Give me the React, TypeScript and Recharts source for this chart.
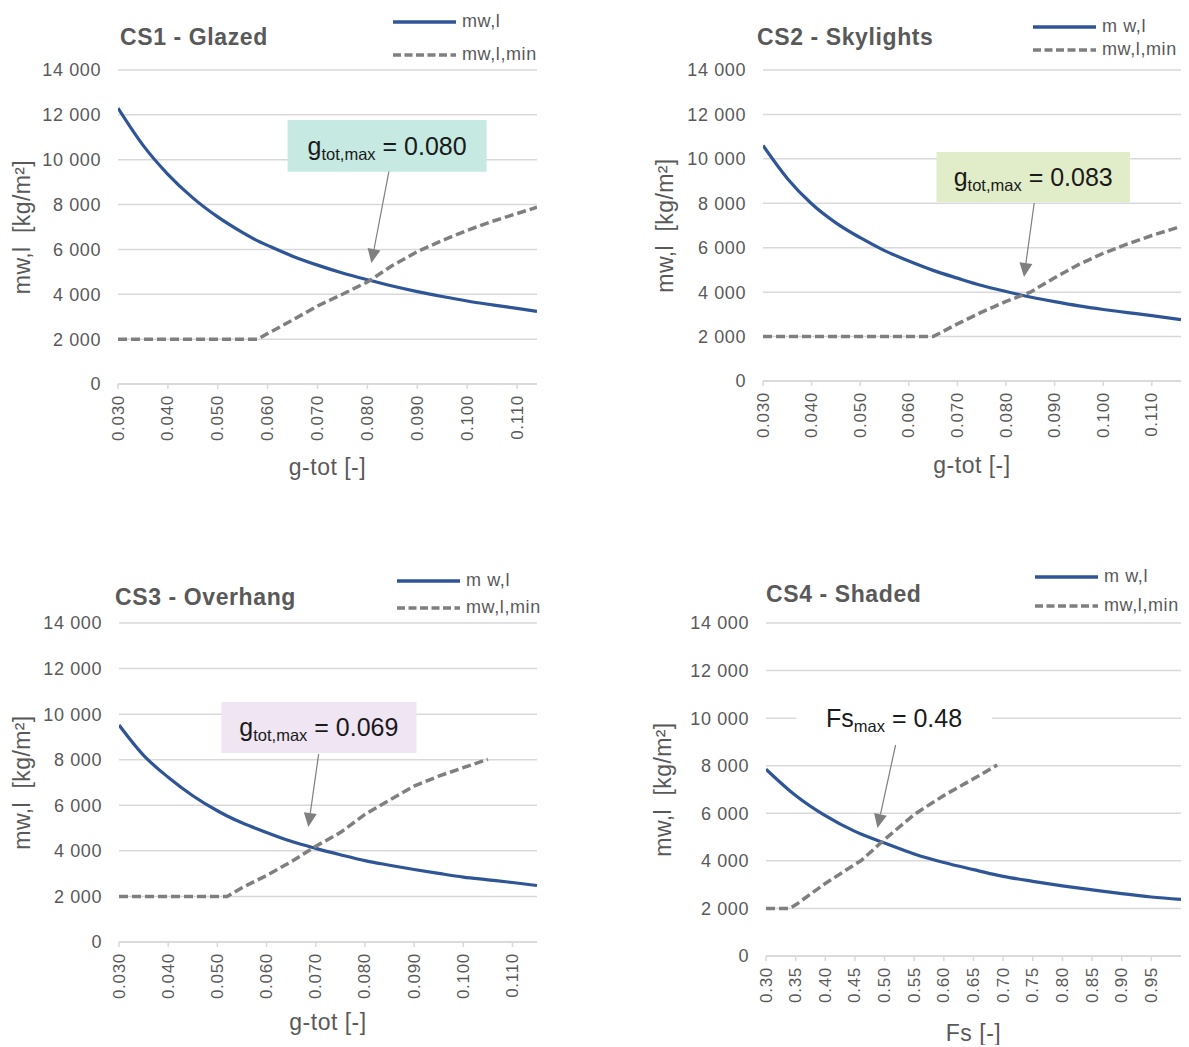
import React from 'react';
import {
  LineChart,
  Line,
  XAxis,
  YAxis,
  CartesianGrid,
  Legend,
  ReferenceArea,
  ReferenceLine,
} from 'recharts';

const FONT = '"Liberation Sans", Arial, Helvetica, sans-serif';
const TEXT = '#595959';
const GRID = '#d9d9d9';
const BLUE = '#2f5597';
const GREY = '#7f7f7f';
const DASH = '9 4';

// CS1 - Glazed
const CS1_G = [0.03, 0.035, 0.04, 0.045, 0.05, 0.055, 0.058, 0.06, 0.065, 0.07, 0.075, 0.08, 0.085, 0.09, 0.095, 0.1, 0.105, 0.11, 0.114];
const CS1_MW = [12300, 10650, 9350, 8300, 7450, 6750, 6380, 6180, 5700, 5300, 4950, 4650, 4370, 4120, 3900, 3700, 3530, 3370, 3240];
const CS1_MIN = [2000, 2000, 2000, 2000, 2000, 2000, 2000, 2250, 2850, 3480, 4000, 4550, 5280, 5900, 6400, 6850, 7250, 7600, 7880];

// CS2 - Skylights
const CS2_G = [0.03, 0.035, 0.04, 0.045, 0.05, 0.055, 0.06, 0.065, 0.07, 0.075, 0.08, 0.085, 0.09, 0.095, 0.1, 0.105, 0.11, 0.116];
const CS2_MW = [10600, 9120, 7980, 7120, 6450, 5870, 5400, 4980, 4630, 4300, 4030, 3780, 3570, 3380, 3220, 3080, 2940, 2760];
const CS2_MIN = [2000, 2000, 2000, 2000, 2000, 2000, 2000, 2000, 2570, 3100, 3580, 4000, 4650, 5250, 5750, 6170, 6550, 6960];

// CS3 - Overhang
const CS3_G = [0.03, 0.035, 0.04, 0.045, 0.05, 0.052, 0.055, 0.06, 0.065, 0.07, 0.075, 0.08, 0.085, 0.09, 0.095, 0.1, 0.105, 0.11, 0.115];
const CS3_MW = [9520, 8190, 7230, 6420, 5760, 5530, 5230, 4810, 4420, 4110, 3830, 3570, 3370, 3180, 3010, 2850, 2730, 2610, 2480];
const CS3_MIN = [2000, 2000, 2000, 2000, 2000, 2000, 2380, 2920, 3520, 4200, 4800, 5600, 6230, 6840, 7280, 7650, 8020, null, null];

// CS4 - Shaded
const CS4_FS = [0.3, 0.34, 0.35, 0.4, 0.45, 0.46, 0.5, 0.55, 0.6, 0.65, 0.69, 0.7, 0.75, 0.8, 0.85, 0.9, 0.95, 1.0];
const CS4_MW = [7850, 6950, 6750, 5900, 5240, 5130, 4750, 4290, 3930, 3630, 3400, 3350, 3140, 2950, 2780, 2620, 2480, 2380];
const CS4_MIN = [2000, 2000, 2150, 3050, 3850, 4000, 4900, 5950, 6750, 7450, 8030, null, null, null, null, null, null, null];

const G_TICKS = [0.03, 0.04, 0.05, 0.06, 0.07, 0.08, 0.09, 0.1, 0.11];
const FS_TICKS = [0.3, 0.35, 0.4, 0.45, 0.5, 0.55, 0.6, 0.65, 0.7, 0.75, 0.8, 0.85, 0.9, 0.95];
const Y_TICKS = [0, 2000, 4000, 6000, 8000, 10000, 12000, 14000];

type Row = { x: number; mw: number; min: number | null };

const rows = (xs: number[], mw: number[], min: (number | null)[]): Row[] =>
  xs.map((x, i) => ({ x, mw: mw[i], min: min[i] }));

const thousands = (v: number) => String(v).replace(/\B(?=(\d{3})+(?!\d))/g, ' ');

function RotTick(props: any) {
  const { x, y, payload, digits } = props;
  return (
    <text
      x={x}
      y={y}
      transform={`rotate(-90 ${x} ${y})`}
      textAnchor="end"
      dominantBaseline="central"
      fill={TEXT}
      fontSize={17}
      fontFamily={FONT}
      letterSpacing={0.7}
    >
      {Number(payload.value).toFixed(digits)}
    </text>
  );
}

function Arrow(props: any) {
  const { x1, y1, x2, y2 } = props;
  const a = Math.atan2(y2 - y1, x2 - x1);
  const len = 14;
  const half = 6.5;
  const bx = x2 - len * Math.cos(a);
  const by = y2 - len * Math.sin(a);
  const pts = `${x2},${y2} ${bx - half * Math.sin(a)},${by + half * Math.cos(a)} ${bx + half * Math.sin(a)},${by - half * Math.cos(a)}`;
  return (
    <g>
      <line x1={x1} y1={y1} x2={bx} y2={by} stroke={GREY} strokeWidth={1.2} />
      <polygon points={pts} fill={GREY} />
    </g>
  );
}

const noteLabel = (main: string, sub: string, value: string) => (p: any) => {
  const { x, y, width, height } = p.viewBox;
  return (
    <text
      x={x + width / 2}
      y={y + height / 2 + 9}
      textAnchor="middle"
      fontFamily={FONT}
      fontSize={25}
      fill="#1a1a1a"
      style={{ whiteSpace: 'pre' }}
    >
      {main}
      <tspan fontSize={16.5} dy={5}>{sub}</tspan>
      <tspan dy={-5}>{' = ' + value}</tspan>
    </text>
  );
};

const legendContent = (row: number) => (p: any) => (
  <div style={{ fontFamily: FONT, fontSize: 18, color: TEXT, letterSpacing: 0.6 }}>
    {(p.payload || []).map((e: any) => (
      <div key={e.value} style={{ display: 'flex', alignItems: 'center', height: row }}>
        <svg width={63} height={6}>
          <line
            x1={0}
            y1={3}
            x2={63}
            y2={3}
            stroke={e.color}
            strokeWidth={3.4}
            strokeDasharray={e.dataKey === 'min' ? '8 3.5' : undefined}
          />
        </svg>
        <span style={{ marginLeft: 6, whiteSpace: 'pre' }}>{e.value}</span>
      </div>
    ))}
  </div>
);

type Panel = {
  title: string;
  titleAt: [number, number];
  name: string;
  data: Row[];
  domain: [number, number];
  ticks: number[];
  digits: number;
  xTitle: string;
  box: { left: number; top: number; width: number; height: number };
  margin: { top: number; right: number; bottom: number; left: number };
  yWidth: number;
  xHeight: number;
  yTitleX: number;
  xTitleDy: number;
  legend: { left: number; top: number; row: number };
  note: { x1: number; x2: number; y1: number; y2: number; fill: string; main: string; sub: string; value: string };
  arrow: [{ x: number; y: number }, { x: number; y: number }];
};

const PANELS: Panel[] = [
  {
    title: 'CS1 - Glazed',
    titleAt: [120, 37],
    name: 'mw,l',
    data: rows(CS1_G, CS1_MW, CS1_MIN),
    domain: [0.03, 0.114],
    ticks: G_TICKS,
    digits: 3,
    xTitle: 'g-tot [-]',
    box: { left: 0, top: 0, width: 560, height: 500 },
    margin: { top: 70, right: 23, bottom: 16, left: 0 },
    yWidth: 118,
    xHeight: 100,
    yTitleX: 22,
    xTitleDy: 83,
    legend: { left: 393, top: 5, row: 33 },
    note: { x1: 0.064, x2: 0.1039, y1: 9465, y2: 11770, fill: '#c6e9e2', main: 'g', sub: 'tot,max', value: '0.080' },
    arrow: [{ x: 0.0843, y: 9465 }, { x: 0.0808, y: 5395 }],
  },
  {
    title: 'CS2 - Skylights',
    titleAt: [757, 37],
    name: 'm w,l',
    data: rows(CS2_G, CS2_MW, CS2_MIN),
    domain: [0.03, 0.116],
    ticks: G_TICKS,
    digits: 3,
    xTitle: 'g-tot [-]',
    box: { left: 600, top: 0, width: 589, height: 500 },
    margin: { top: 70, right: 8, bottom: 19, left: 0 },
    yWidth: 163,
    xHeight: 100,
    yTitleX: 65,
    xTitleDy: 84,
    legend: { left: 433, top: 15, row: 23 },
    note: { x1: 0.0657, x2: 0.1055, y1: 8058, y2: 10309, fill: '#e1edc8', main: 'g', sub: 'tot,max', value: '0.083' },
    arrow: [{ x: 0.0858, y: 8013 }, { x: 0.0837, y: 4682 }],
  },
  {
    title: 'CS3 - Overhang',
    titleAt: [115, 597],
    name: 'm w,l',
    data: rows(CS3_G, CS3_MW, CS3_MIN),
    domain: [0.03, 0.115],
    ticks: G_TICKS,
    digits: 3,
    xTitle: 'g-tot [-]',
    box: { left: 0, top: 555, width: 560, height: 490 },
    margin: { top: 68, right: 23, bottom: 13, left: 0 },
    yWidth: 119,
    xHeight: 90,
    yTitleX: 22,
    xTitleDy: 80,
    legend: { left: 397, top: 12, row: 27 },
    note: { x1: 0.0508, x2: 0.0905, y1: 8295, y2: 10533, fill: '#f0e5f3', main: 'g', sub: 'tot,max', value: '0.069' },
    arrow: [{ x: 0.0706, y: 8251 }, { x: 0.0685, y: 5047 }],
  },
  {
    title: 'CS4 - Shaded',
    titleAt: [766, 594],
    name: 'm w,l',
    data: rows(CS4_FS, CS4_MW, CS4_MIN),
    domain: [0.3, 1.0],
    ticks: FS_TICKS,
    digits: 2,
    xTitle: 'Fs [-]',
    box: { left: 600, top: 555, width: 589, height: 490 },
    margin: { top: 68, right: 8, bottom: 9, left: 0 },
    yWidth: 166,
    xHeight: 80,
    yTitleX: 63,
    xTitleDy: 77,
    legend: { left: 435, top: 7, row: 29 },
    note: { x1: 0.351, x2: 0.681, y1: 9400, y2: 10600, fill: '#ffffff', main: 'Fs', sub: 'max', value: '0.48' },
    arrow: [{ x: 0.5186, y: 8871 }, { x: 0.488, y: 5381 }],
  },
];

function CaseChart({ p }: { p: Panel }) {
  return (
    <div style={{ position: 'absolute', left: p.box.left, top: p.box.top }}>
      <LineChart width={p.box.width} height={p.box.height} data={p.data} margin={p.margin}>
        <CartesianGrid vertical={false} stroke={GRID} strokeWidth={1.5} />
        <XAxis
          dataKey="x"
          type="number"
          domain={p.domain}
          ticks={p.ticks}
          interval={0}
          allowDataOverflow
          height={p.xHeight}
          axisLine={{ stroke: GRID, strokeWidth: 1.5 }}
          tickLine={{ stroke: GRID, strokeWidth: 1.5 }}
          tickSize={5}
          tickMargin={6}
          tick={<RotTick digits={p.digits} />}
          label={(lp: any) => (
            <text
              x={lp.viewBox.x + lp.viewBox.width / 2}
              y={lp.viewBox.y + p.xTitleDy}
              textAnchor="middle"
              dominantBaseline="central"
              fontFamily={FONT}
              fontSize={23}
              letterSpacing={0.5}
              fill={TEXT}
            >
              {p.xTitle}
            </text>
          )}
        />
        <YAxis
          type="number"
          domain={[0, 14000]}
          ticks={Y_TICKS}
          width={p.yWidth}
          axisLine={false}
          tickLine={false}
          tickSize={0}
          tickMargin={17}
          tickFormatter={thousands}
          tick={{ fill: TEXT, fontSize: 18, fontFamily: FONT, letterSpacing: 0.6 }}
          label={(lp: any) => {
            const cx = p.margin.left + p.yTitleX;
            const cy = lp.viewBox.y + lp.viewBox.height / 2;
            return (
              <text
                x={cx}
                y={cy}
                transform={`rotate(-90 ${cx} ${cy})`}
                textAnchor="middle"
                dominantBaseline="central"
                fontFamily={FONT}
                fontSize={23}
                letterSpacing={0.4}
                fill={TEXT}
                style={{ whiteSpace: 'pre' }}
              >
                mw,l  [kg/m²]
              </text>
            );
          }}
        />
        <Legend
          layout="vertical"
          verticalAlign="middle"
          align="center"
          wrapperStyle={{ left: p.legend.left, top: p.legend.top, width: 200 }}
          content={legendContent(p.legend.row)}
        />
        <ReferenceArea
          x1={p.note.x1}
          x2={p.note.x2}
          y1={p.note.y1}
          y2={p.note.y2}
          fill={p.note.fill}
          fillOpacity={1}
          stroke="none"
          label={noteLabel(p.note.main, p.note.sub, p.note.value)}
        />
        <Line
          dataKey="mw"
          name={p.name}
          type="monotone"
          stroke={BLUE}
          strokeWidth={3.2}
          dot={false}
          isAnimationActive={false}
        />
        <Line
          dataKey="min"
          name="mw,l,min"
          type="linear"
          stroke={GREY}
          strokeWidth={3.5}
          strokeDasharray={DASH}
          dot={false}
          connectNulls={false}
          isAnimationActive={false}
        />
        <ReferenceLine segment={p.arrow} shape={Arrow} ifOverflow="visible" />
      </LineChart>
      <div
        style={{
          position: 'absolute',
          left: p.titleAt[0] - p.box.left,
          top: p.titleAt[1] - p.box.top - 11,
          fontFamily: FONT,
          fontWeight: 'bold',
          fontSize: 23,
          lineHeight: 1,
          letterSpacing: 0.6,
          color: TEXT,
          whiteSpace: 'nowrap',
        }}
      >
        {p.title}
      </div>
    </div>
  );
}

export default function App() {
  return (
    <div
      style={{
        position: 'absolute',
        left: 0,
        top: 0,
        width: 1189,
        height: 1047,
        overflow: 'hidden',
        background: '#fff',
      }}
    >
      {PANELS.map((p) => (
        <CaseChart key={p.title} p={p} />
      ))}
    </div>
  );
}
